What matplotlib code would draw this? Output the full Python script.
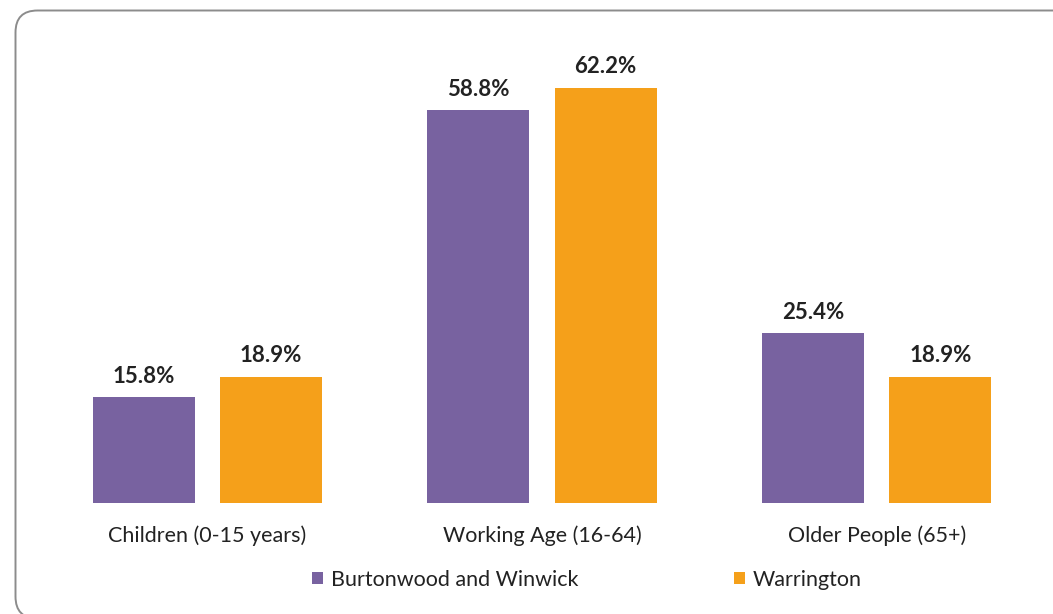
import matplotlib
matplotlib.use("Agg")
import matplotlib.pyplot as plt
from matplotlib.patches import FancyBboxPatch, Patch
import numpy as np

categories = ["Children (0-15 years)", "Working Age (16-64)", "Older People (65+)"]
series_names = ["Burtonwood and Winwick", "Warrington"]
burtonwood = [15.8, 58.8, 25.4]
warrington = [18.9, 62.2, 18.9]

purple = "#7862A0"
orange = "#F5A01A"
text_col = "#222222"

plt.rcParams['font.family'] = ['Lato', 'DejaVu Sans']

W, H = 1053, 614
fig = plt.figure(figsize=(W / 100, H / 100), dpi=100)

# background axes in pixel units for the rounded border
bg = fig.add_axes([0, 0, 1, 1])
bg.set_xlim(0, W)
bg.set_ylim(H, 0)
bg.axis("off")
bg.set_zorder(0)
box = FancyBboxPatch((15.5, 10.5), 1060, 608, boxstyle="round,pad=0,rounding_size=22",
                     facecolor="white", edgecolor="#8C8C8C", linewidth=1.4)
bg.add_patch(box)

ax = fig.add_axes([40 / W, (H - 503) / H, 1004 / W, 467.6 / H])
ax.set_zorder(2)
ax.set_facecolor("none")

x = np.arange(len(categories))
bw = 0.305
off = 0.19
b1 = ax.bar(x - off, burtonwood, bw, color=purple, label=series_names[0])
b2 = ax.bar(x + off, warrington, bw, color=orange, label=series_names[1])

for bars, vals in ((b1, burtonwood), (b2, warrington)):
    for rect, v in zip(bars, vals):
        ax.annotate(f"{v:.1f}%", (rect.get_x() + rect.get_width() / 2, rect.get_height()),
                    xytext=(0, 7.5), textcoords="offset points", ha="center", va="bottom",
                    fontsize=16, fontweight="bold", color=text_col)

ax.set_xlim(-0.5, 2.5)
ax.set_ylim(0, 70)
ax.set_yticks([])
ax.set_xticks(x)
ax.set_xticklabels(categories, fontsize=15.5, color=text_col)
ax.tick_params(axis="x", length=0, pad=16)
for s in ax.spines.values():
    s.set_visible(False)

handles = [Patch(facecolor=purple), Patch(facecolor=orange)]
fig.legend(handles, series_names, loc="center", bbox_to_anchor=(587 / W, 1 - 580 / H),
           ncol=2, frameon=False, fontsize=15.5, handlelength=0.5, handleheight=0.5,
           handletextpad=0.4, columnspacing=7.2, labelcolor=text_col)

fig.savefig("out.png", dpi=100)
